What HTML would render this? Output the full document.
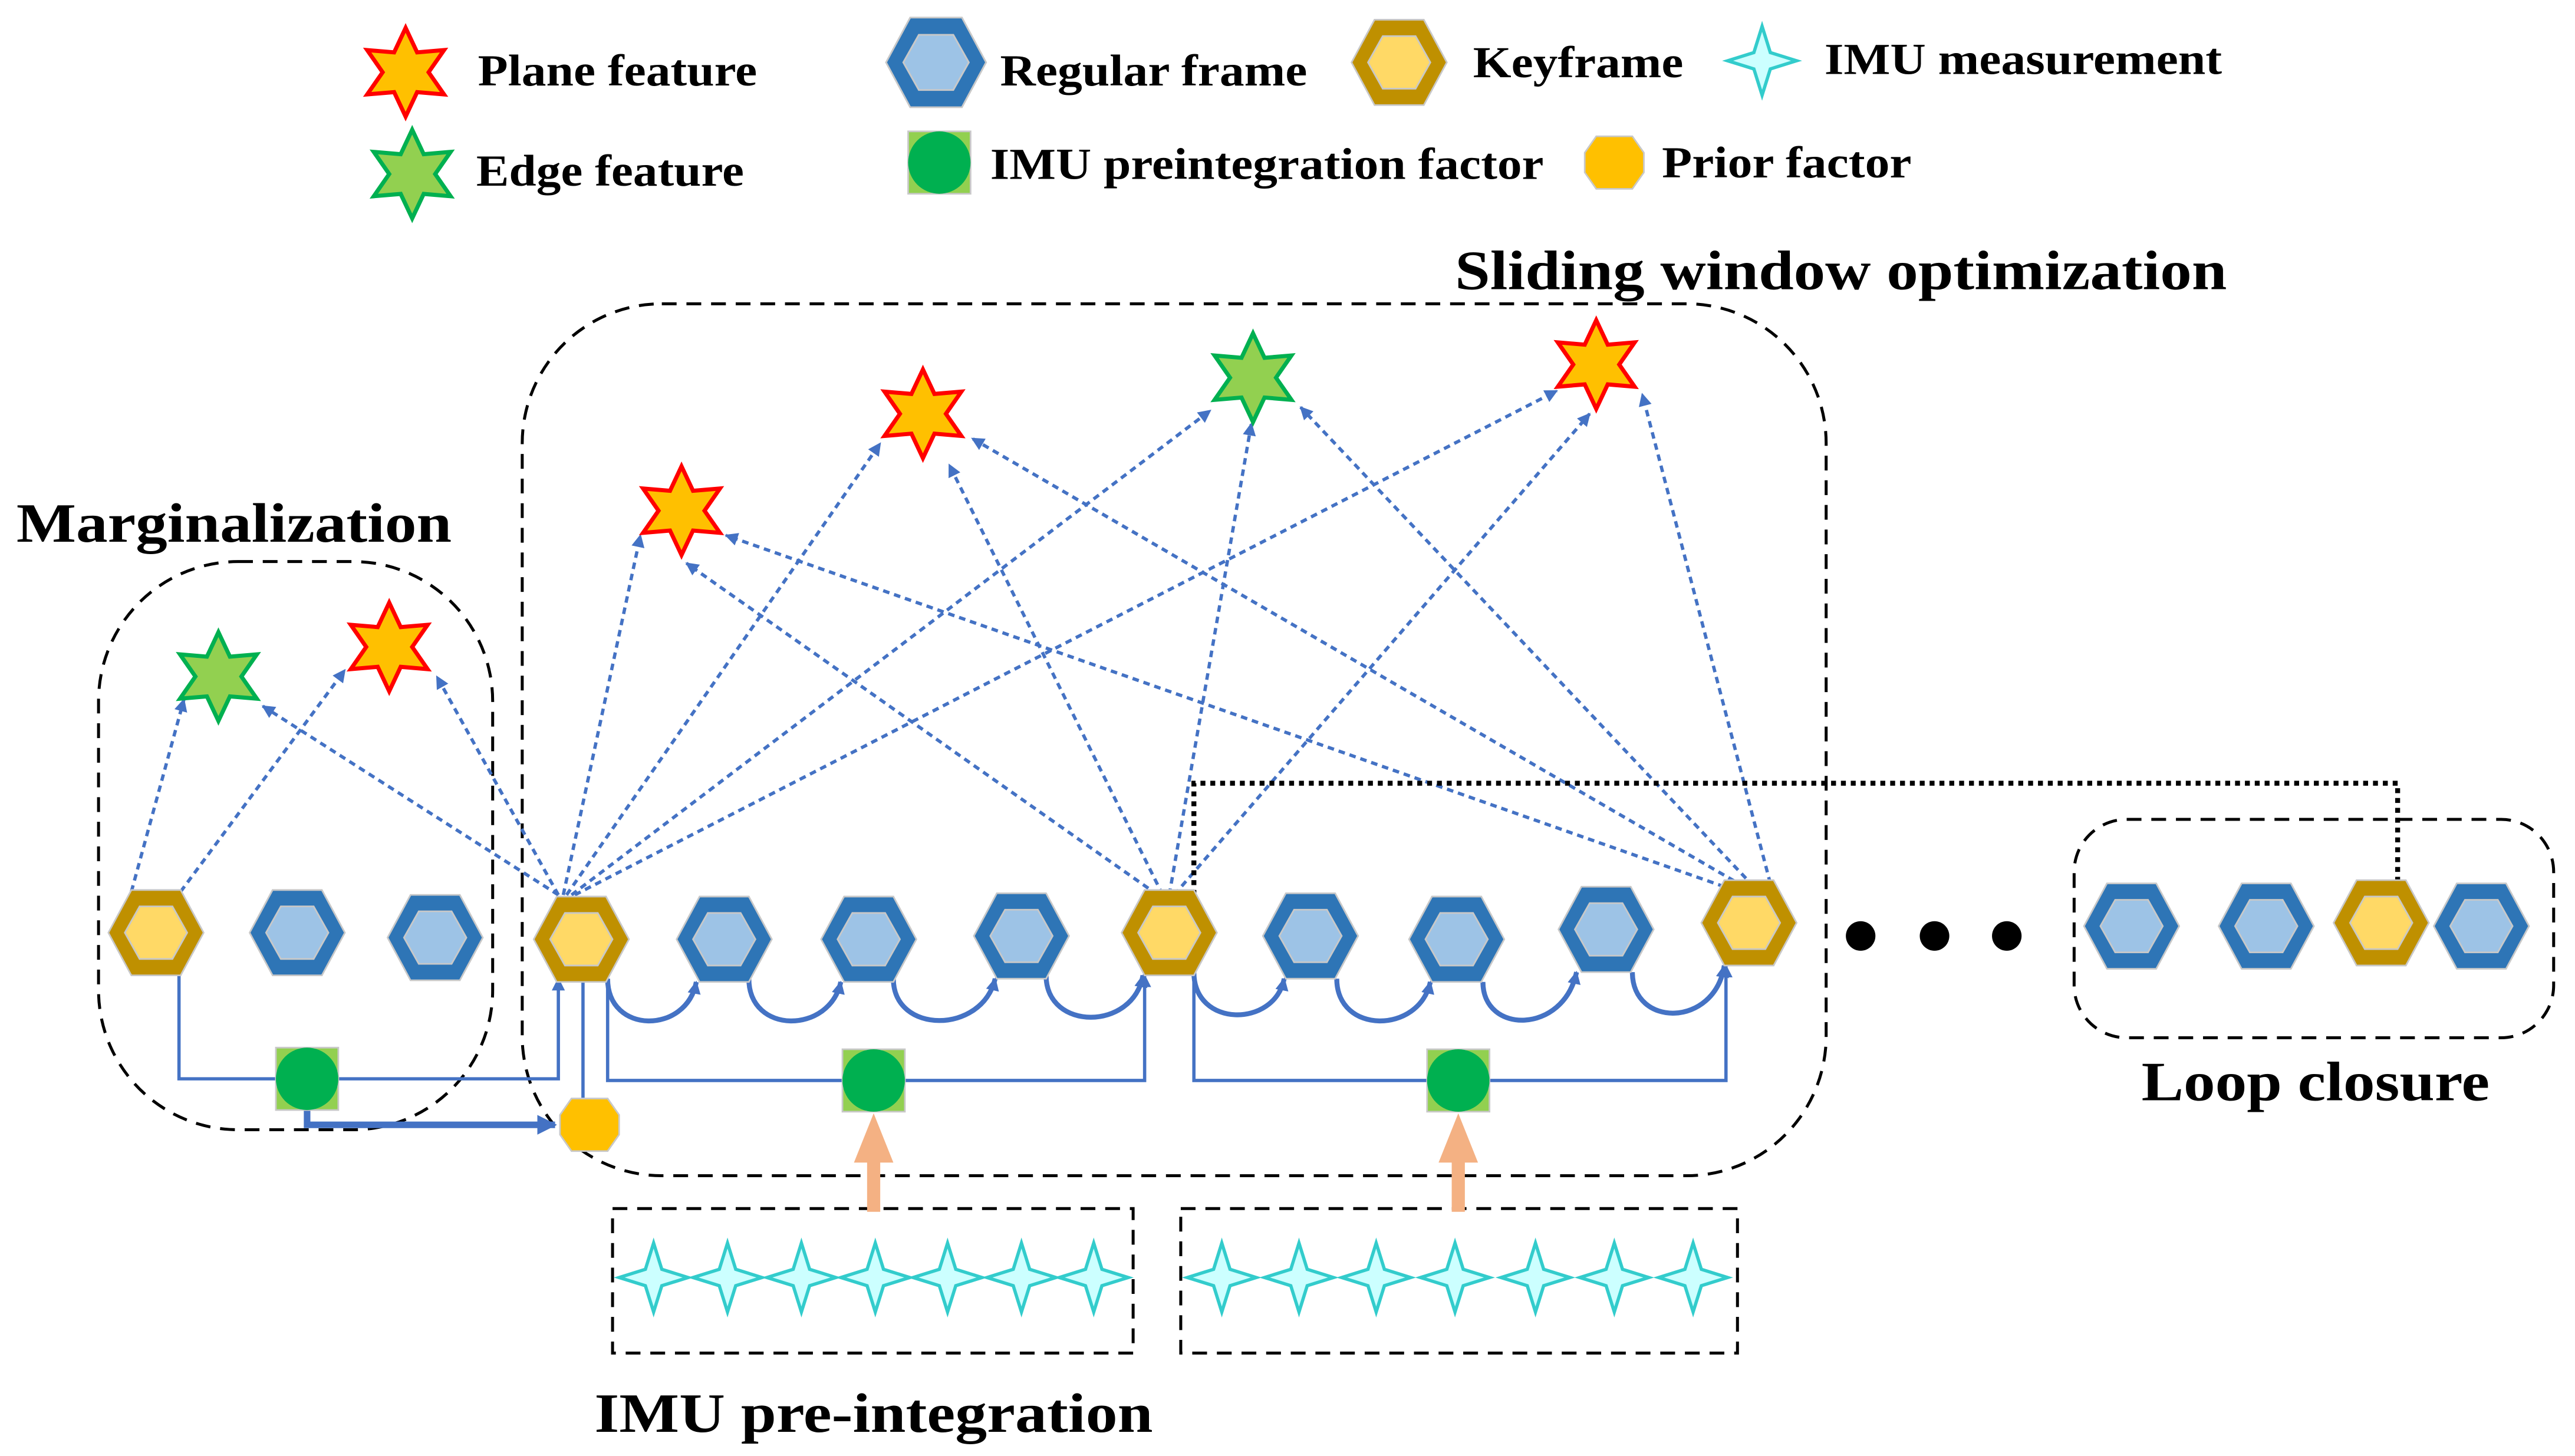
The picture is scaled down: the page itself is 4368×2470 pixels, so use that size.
<!DOCTYPE html>
<html><head><meta charset="utf-8"><style>
html,body{margin:0;padding:0;background:#fff}
svg{display:block}
text{font-family:"Liberation Serif",serif;font-weight:bold;fill:#000}
</style></head><body>
<svg width="4368" height="2470" viewBox="0 0 1568 886.7" preserveAspectRatio="none" xmlns="http://www.w3.org/2000/svg">
<defs>
<g id="kf"><polygon points="-29,0 -15,-26 15,-26 29,0 15,26 -15,26" fill="#bf9000" stroke="#c8c8c8" stroke-width="1"/><polygon points="-19,0 -10,-16 10,-16 19,0 10,16 -10,16" fill="#ffd966" stroke="#c8c8c8" stroke-width="1"/></g>
<g id="rf"><polygon points="-29,0 -15,-26 15,-26 29,0 15,26 -15,26" fill="#2e75b6" stroke="#c8c8c8" stroke-width="1"/><polygon points="-19,0 -10,-16 10,-16 19,0 10,16 -10,16" fill="#9dc3e6" stroke="#c8c8c8" stroke-width="1"/></g>
<polygon id="rs" points="0,-27 7,-12.1 23.4,-13.5 14,0 23.4,13.5 7,12.1 0,27 -7,12.1 -23.4,13.5 -14,0 -23.4,-13.5 -7,-12.1" fill="#ffc000" stroke="#ff0000" stroke-width="2.5"/>
<polygon id="gs" points="0,-27 7,-12.1 23.4,-13.5 14,0 23.4,13.5 7,12.1 0,27 -7,12.1 -23.4,13.5 -14,0 -23.4,-13.5 -7,-12.1" fill="#92d050" stroke="#00b050" stroke-width="2.5"/>
<polygon id="is" points="0,-21 5,-5 21,0 5,5 0,21 -5,5 -21,0 -5,-5" fill="#ccffff" stroke="#33cccc" stroke-width="2"/>
<g id="fac"><rect x="-19" y="-19" width="38" height="38" fill="#92d050" stroke="#c8c8c8"/><ellipse cx="0" cy="0" rx="19" ry="19" fill="#00b050"/></g>
<polygon id="pri" points="-18,-6 -11,-16 11,-16 18,-6 18,6 11,16 -11,16 -18,6" fill="#ffc000" stroke="#c8c8c8"/>
<marker id="ar" viewBox="0 0 10 10" refX="9" refY="5" markerWidth="8" markerHeight="8" markerUnits="userSpaceOnUse" orient="auto"><path d="M0,0 L10,5 L0,10 z" fill="#4472c4"/></marker>
<marker id="ar2" viewBox="0 0 10 10" refX="9" refY="5" markerWidth="12" markerHeight="12" markerUnits="userSpaceOnUse" orient="auto"><path d="M0,0 L10,5 L0,10 z" fill="#4472c4"/></marker>
</defs>

<!-- Legend -->
<use href="#rs" x="247" y="44"/><text x="291" y="52" font-size="27" textLength="170" lengthAdjust="spacingAndGlyphs">Plane feature</text>
<use href="#gs" x="251" y="106"/><text x="290" y="113" font-size="27" textLength="163" lengthAdjust="spacingAndGlyphs">Edge feature</text>
<g transform="translate(570,38) scale(1.05)"><use href="#rf"/></g><text x="609" y="52" font-size="27" textLength="187" lengthAdjust="spacingAndGlyphs">Regular frame</text>
<use href="#kf" x="852" y="38"/><text x="897" y="47" font-size="27" textLength="128" lengthAdjust="spacingAndGlyphs">Keyframe</text>
<use href="#is" x="1073" y="37"/><text x="1111" y="45" font-size="27" textLength="242" lengthAdjust="spacingAndGlyphs">IMU measurement</text>
<use href="#fac" x="572" y="99"/><text x="603" y="109" font-size="27" textLength="337" lengthAdjust="spacingAndGlyphs">IMU preintegration factor</text>
<use href="#pri" x="983" y="99"/><text x="1012" y="108" font-size="27" textLength="152" lengthAdjust="spacingAndGlyphs">Prior factor</text>

<text x="886" y="176" font-size="34" textLength="470" lengthAdjust="spacingAndGlyphs">Sliding window optimization</text>
<text x="10" y="330" font-size="34" textLength="265" lengthAdjust="spacingAndGlyphs">Marginalization</text>
<text x="1304" y="670" font-size="34" textLength="212" lengthAdjust="spacingAndGlyphs">Loop closure</text>
<text x="362" y="872" font-size="34" textLength="340" lengthAdjust="spacingAndGlyphs">IMU pre-integration</text>

<!-- dashed boxes -->
<g fill="none" stroke="#000" stroke-width="1.8" stroke-dasharray="9,6">
<rect x="60" y="342" width="240" height="346" rx="85"/>
<rect x="318" y="185" width="794" height="531" rx="85"/>
<rect x="1263" y="499" width="292" height="133" rx="32"/>
<rect x="373" y="736" width="317" height="88"/>
<rect x="719" y="736" width="339" height="88"/>
</g>

<!-- dashed blue feature lines -->
<g stroke="#4472c4" stroke-width="2" stroke-dasharray="4,3" fill="none" marker-end="url(#ar)">
<line x1="80" y1="543" x2="112" y2="426"/>
<line x1="110" y1="543" x2="210" y2="408"/>
<line x1="340" y1="545" x2="160" y2="430"/>
<line x1="340" y1="545" x2="266" y2="412"/>
<line x1="343" y1="545" x2="390" y2="326"/>
<line x1="345" y1="545" x2="536" y2="270"/>
<line x1="348" y1="545" x2="737" y2="250"/>
<line x1="350" y1="545" x2="948" y2="238"/>
<line x1="705" y1="545" x2="418" y2="343"/>
<line x1="708" y1="545" x2="578" y2="283"/>
<line x1="712" y1="545" x2="762" y2="258"/>
<line x1="715" y1="545" x2="968" y2="252"/>
<line x1="1050" y1="540" x2="442" y2="326"/>
<line x1="1062" y1="540" x2="592" y2="267"/>
<line x1="1068" y1="540" x2="792" y2="248"/>
<line x1="1078" y1="538" x2="1000" y2="240"/>
</g>

<!-- loop closure dotted -->
<polyline points="727,545 727,477 1460,477 1460,545" fill="none" stroke="#000" stroke-width="3" stroke-dasharray="3,3"/>

<!-- stars -->
<use href="#gs" x="133" y="412"/>
<use href="#rs" x="237" y="394"/>
<use href="#rs" x="415" y="311"/>
<use href="#rs" x="562" y="252"/>
<use href="#gs" x="763" y="230"/>
<use href="#rs" x="972" y="222"/>

<!-- factor lines -->
<g stroke="#4472c4" stroke-width="2" fill="none" marker-end="url(#ar)">
<polyline points="109,592 109,657 340,657 340,596"/>
<polyline points="370,596 370,658 697,658 697,594"/>
<polyline points="727,592 727,658 1051,658 1051,588"/>
<line x1="355" y1="670" x2="355" y2="580"/>
</g>
<g stroke="#4472c4" stroke-width="3" fill="none" marker-end="url(#ar)">
<path d="M370,596 C370,630 418,630 424,598"/>
<path d="M456,596 C456,630 505,630 512,598"/>
<path d="M544,596 C544,630 598,630 606,596"/>
<path d="M637,594 C637,628 690,628 696,594"/>
<path d="M727,592 C727,626 776,626 782,596"/>
<path d="M814,596 C814,630 864,630 871,598"/>
<path d="M903,598 C903,630 952,630 960,592"/>
<path d="M994,592 C994,626 1044,626 1050,588"/>
</g>
<polyline points="187,672 187,685 338,685" fill="none" stroke="#4472c4" stroke-width="4" marker-end="url(#ar2)"/>

<!-- hexagons -->
<use href="#kf" x="95" y="568"/><use href="#rf" x="181" y="568"/><use href="#rf" x="265" y="571"/>
<use href="#kf" x="354" y="572"/><use href="#rf" x="441" y="572"/><use href="#rf" x="529" y="572"/><use href="#rf" x="622" y="570"/>
<use href="#kf" x="712" y="568"/><use href="#rf" x="798" y="570"/><use href="#rf" x="887" y="572"/><use href="#rf" x="978" y="566"/><use href="#kf" x="1065" y="562"/>
<circle cx="1133" cy="570" r="9"/><circle cx="1178" cy="570" r="9"/><circle cx="1222" cy="570" r="9"/>
<use href="#rf" x="1298" y="564"/><use href="#rf" x="1380" y="564"/><use href="#kf" x="1450" y="562"/><use href="#rf" x="1511" y="564"/>

<!-- factors -->
<use href="#fac" x="187" y="657"/><use href="#fac" x="532" y="658"/><use href="#fac" x="888" y="658"/>
<use href="#pri" x="359" y="685"/>
<polygon points="528,738 536,738 536,708 544,708 532,678 520,708 528,708" fill="#f4b183"/>
<polygon points="884,738 892,738 892,708 900,708 888,678 876,708 884,708" fill="#f4b183"/>

<!-- IMU stars -->
<use href="#is" x="398" y="778"/><use href="#is" x="443" y="778"/><use href="#is" x="488" y="778"/><use href="#is" x="533" y="778"/><use href="#is" x="577" y="778"/><use href="#is" x="622" y="778"/><use href="#is" x="666" y="778"/>
<use href="#is" x="744" y="778"/><use href="#is" x="791" y="778"/><use href="#is" x="838" y="778"/><use href="#is" x="886" y="778"/><use href="#is" x="935" y="778"/><use href="#is" x="983" y="778"/><use href="#is" x="1031" y="778"/>
</svg>
</body></html>
